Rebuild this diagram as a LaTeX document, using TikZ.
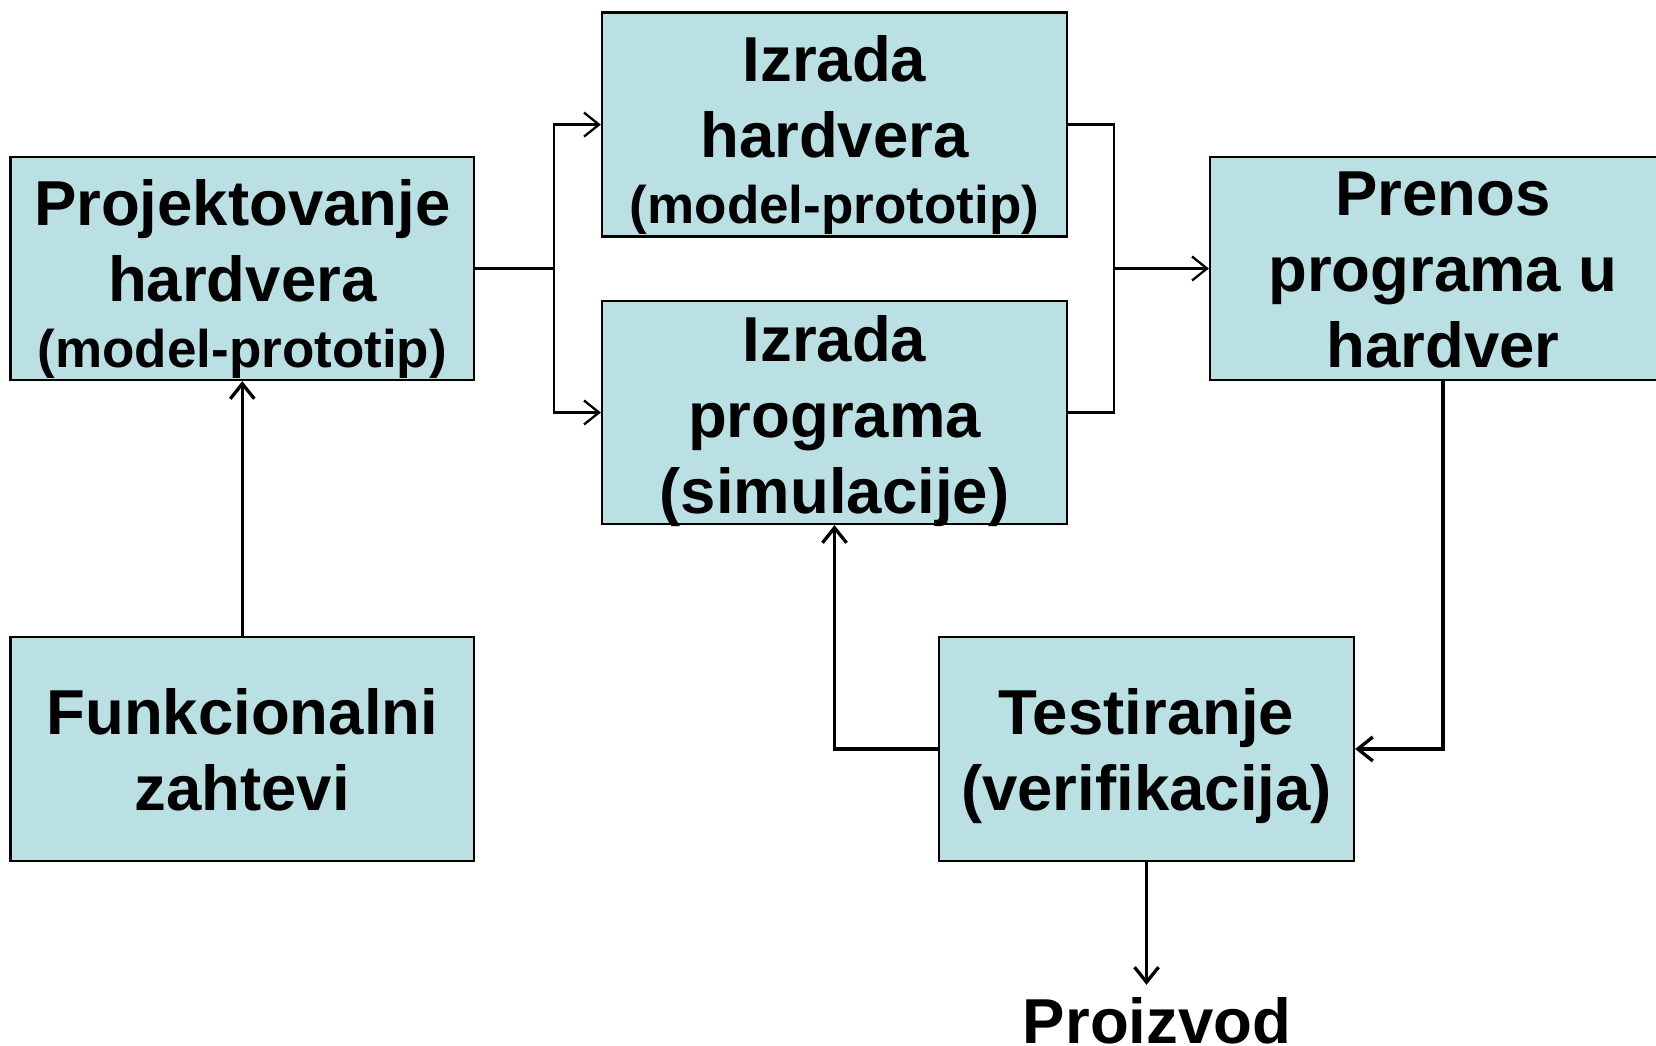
\documentclass[tikz,border=0pt]{standalone}
\usepackage{fontspec}
\setmainfont{Liberation Sans}
\usetikzlibrary{arrows.meta,calc}
\definecolor{boxfill}{RGB}{186,224,227}
\newcommand\bigfont{\fontsize{63.5}{76}\bfseries\selectfont}
\newcommand\smallfont{\fontsize{53}{66}\bfseries\selectfont}
\tikzset{
  box/.style={draw=black, line width=2.3pt, fill=boxfill, inner sep=0pt},
  txt/.style={align=center, inner sep=0pt, font=\bigfont},
  thinlink/.style={line width=2.3pt},
  thicklink/.style={line width=3.3pt},
  tip/.style={-{Straight Barb[length=15pt,width=24pt]}},
}
\begin{document}
\begin{tikzpicture}[x=1pt,y=-1pt]
  \useasboundingbox (0,0) rectangle (1656,1046);
  \fill[white] (0,0) rectangle (1656,1046);

  % boxes
  \node[box, minimum width=463.4pt, minimum height=223pt] (b1) at (242.3,268.5) {};
  \node[box, minimum width=463.4pt, minimum height=224pt] (b2) at (242.3,749) {};
  \node[box, minimum width=465pt, minimum height=224pt] (b3) at (834.5,124.6) {};
  \node[box, minimum width=465pt, minimum height=223pt] (b4) at (834.5,412.5) {};
  \node[box, minimum width=466pt, minimum height=223pt] (b5) at (1443,268.5) {};
  \node[box, minimum width=415pt, minimum height=224pt] (b6) at (1146.5,749) {};

  % box texts
  \node[txt] (t1) at ($(b1.center)+(0,10)$) {Projektovanje\\hardvera\\[-10pt]{\smallfont (model-prototip)}};
  \node[txt] (t2) at ($(b2.center)+(0,1)$) {Funkcionalni\\zahtevi};
  \node[txt] (t3) at ($(b3.center)+(0,10)$) {Izrada\\hardvera\\[-10pt]{\smallfont (model-prototip)}};
  \node[txt] (t4) at ($(b4.center)+(0,8.5)$) {Izrada\\programa\\(simulacije)};
  \node[txt] (t5) at ($(b5.center)+(0,1.7)$) {Prenos\\programa u\\hardver};
  \node[txt] (t6) at ($(b6.center)+(0,7)$) {Testiranje\\(verifikacija)};
  \node[txt, anchor=base, inner ysep=12pt] (out) at (1157,1043) {Proizvod};

  % junction columns
  \coordinate (jl) at (554,0);
  \coordinate (jr) at (1114,0);

  % design splits into hardware and software work
  \draw[thinlink] (b1.east) -- (b1.east -| jl);
  \draw[thinlink, tip] (b1.east -| jl) |- (b3.west);
  \draw[thinlink, tip] (b1.east -| jl) |- (b4.west);

  % both branches join into the transfer step
  \draw[thinlink] (b3.east) -| (b4.east -| jr) -- (b4.east);
  \draw[thinlink, tip] (b5.west -| jr) -- (b5.west);

  % requirements, testing loop and output
  \draw[thicklink, tip] (b2.north) -- (b1.south);
  \draw[thicklink, tip] (b5.south) |- (b6.east);
  \draw[thicklink, tip] (b6.west) -| (b4.south);
  \draw[thicklink, tip] (b6.south) -- (b6.south |- out.north);
\end{tikzpicture}
\end{document}
